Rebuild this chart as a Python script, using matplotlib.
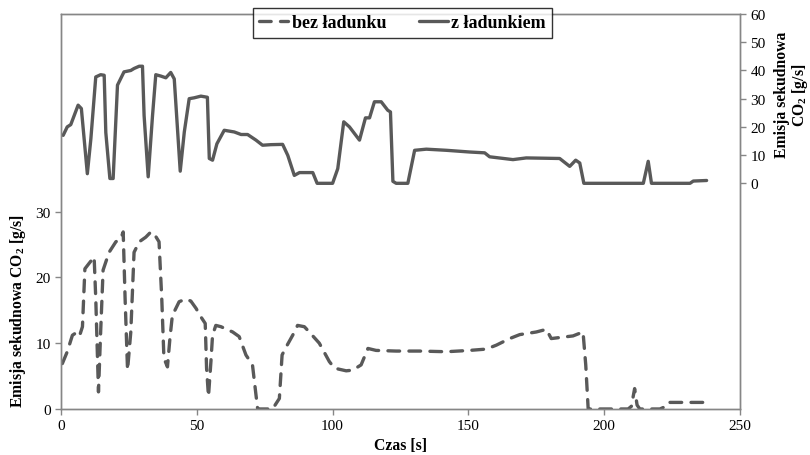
import matplotlib
matplotlib.use("Agg")
import matplotlib.pyplot as plt

plt.rcParams['font.family'] = ['Liberation Serif', 'DejaVu Serif']
plt.rcParams['mathtext.fontset'] = 'custom'
plt.rcParams['mathtext.rm'] = 'Liberation Serif:bold'
plt.rcParams['mathtext.bf'] = 'Liberation Serif:bold'

# z ładunkiem (prawa oś)
t_z = [0.8, 2.3, 3.6, 6.3, 7.5, 9.7, 11.0, 12.8, 14.6, 15.9, 16.5, 18.0, 19.2, 20.8,
       23.2, 25.7, 26.9, 28.8, 30.0, 30.6, 32.1, 33.7, 34.9, 36.8, 38.6, 40.4, 41.7,
       43.9, 45.4, 47.2, 49.0, 51.5, 53.9, 54.6, 55.8, 57.4, 60.1, 63.8, 66.3, 68.7,
       71.8, 74.2, 77.3, 81.6, 83.5, 85.9, 87.8, 92.7, 94.3, 100.0, 101.9, 104.1,
       106.2, 109.9, 112.1, 113.6, 115.4, 117.9, 120.3, 121.3, 122.2, 123.4, 127.7,
       130.2, 134.5, 141.9, 150.4, 156.0, 157.8, 166.4, 171.3, 183.6, 187.3, 189.5,
       191.0, 192.5, 214.4, 216.2, 217.4, 231.6, 232.8, 237.7]
v_z = [17.0, 20.0, 20.8, 27.7, 26.5, 3.4, 15.8, 37.7, 38.5, 38.3, 18.0, 1.7, 1.7, 34.8,
       39.5, 40.0, 40.7, 41.5, 41.5, 24.0, 2.3, 24.0, 38.5, 38.0, 37.4, 39.3, 37.0,
       4.3, 18.2, 30.0, 30.3, 30.9, 30.5, 8.8, 8.2, 14.0, 18.8, 18.2, 17.3, 17.3,
       15.3, 13.5, 13.7, 13.8, 9.9, 2.8, 3.8, 3.8, 0.0, 0.0, 5.2, 21.8,
       20.0, 15.3, 23.2, 23.2, 28.9, 28.9, 25.9, 25.3, 0.7, 0.0, 0.0,
       11.7, 12.1, 11.7, 11.1, 10.8, 9.4, 8.4, 9.0, 8.8, 6.0, 8.2,
       7.2, 0.0, 0.0, 7.8, 0.0, 0.0, 0.8, 1.0]

# bez ładunku (lewa oś)
t_b = [0.5, 2.3, 4.2, 6.0, 6.9, 7.9, 8.8, 10.3, 12.2, 12.8, 13.8, 14.6, 15.5, 17.7,
       20.2, 22.0, 22.9, 23.6, 24.5, 25.7, 26.9, 28.8, 31.2, 33.1, 34.3, 36.1, 37.1,
       37.9, 39.2, 40.1, 41.0, 43.5, 46.0, 47.8, 49.7, 51.5, 53.1, 53.6, 54.3, 55.2,
       55.8, 57.0, 58.9, 63.2, 65.6, 68.1, 70.5, 71.8, 72.4, 77.9, 80.4, 81.4, 82.6,
       85.3, 87.1, 89.6, 91.4, 95.1, 98.8, 100.7, 105.0, 107.4, 110.5, 113.0, 116.0,
       123.4, 132.0, 141.9, 150.4, 156.6, 160.3, 165.2, 168.9, 175.0, 178.7, 180.5,
       188.5, 192.2, 193.2, 194.1, 203.3, 208.8, 210.0, 211.2, 212.1, 213.1, 220.5,
       222.7, 223.6, 237.7]
v_b = [6.9, 8.7, 11.2, 11.7, 11.2, 12.5, 21.3, 22.1, 23.1, 16.8, 2.6, 11.7, 21.1, 23.8,
       25.4, 25.9, 26.9, 16.8, 5.9, 11.7, 23.8, 25.4, 26.1, 26.9, 26.6, 25.4, 16.8,
       7.7, 6.4, 10.7, 14.2, 16.3, 16.7, 16.4, 15.3, 14.0, 13.0, 6.2, 1.9, 7.2,
       11.2, 12.7, 12.5, 11.7, 11.0, 8.2, 6.7, 2.1, 0.0, 0.0, 1.6, 8.2, 9.2,
       11.2, 12.7, 12.5, 11.7, 10.0, 7.2, 6.2, 5.8, 5.9, 6.7, 9.2, 8.9,
       8.8, 8.8, 8.7, 8.9, 9.1, 9.7, 10.7, 11.3, 11.7, 12.1, 10.7,
       11.1, 11.7, 6.7, 0.0, 0.0, 0.0, 0.4, 3.1, 0.6, 0.0, 0.0,
       0.4, 1.0, 1.0]

x_ticks = [0, 50, 100, 150, 200, 250]
left_ticks = [0, 10, 20, 30]
right_ticks = [0, 10, 20, 30, 40, 50, 60]

line_col = '#595959'
spine_col = '#868686'

fig = plt.figure(figsize=(8.1, 4.56), dpi=100)
ax = fig.add_axes([0.0753, 0.1009, 0.9136 - 0.0753, 0.967 - 0.1009])
ax2 = ax.twinx()

l1, = ax.plot(t_b, v_b, color=line_col, lw=2.4, dashes=(3.5, 2.8),
              dash_capstyle='round', dash_joinstyle='round', label='bez ładunku')
l2, = ax2.plot(t_z, v_z, color=line_col, lw=2.4, solid_joinstyle='round',
               solid_capstyle='round', label='z ładunkiem')

ax.set_xlim(0, 250)
ax.set_ylim(0, 60)
ax2.set_ylim(-80, 60)
ax.set_xticks(x_ticks)
ax.set_yticks(left_ticks)
ax2.set_yticks(right_ticks)

for a in (ax, ax2):
    for s in a.spines.values():
        s.set_color(spine_col)
        s.set_linewidth(1.0)
    a.tick_params(colors=spine_col, labelcolor='black', labelsize=11, length=4, width=1)

ax.set_xlabel('Czas [s]', fontsize=11.3, fontweight='bold', labelpad=3)
ax.set_ylabel('Emisja sekudnowa CO$_2$ [g/s]', fontsize=11.3, fontweight='bold')
ax.yaxis.set_label_coords(-0.049, 0.25)
ax2.set_ylabel('Emisja sekudnowa\nCO$_2$ [g/s]', fontsize=11.3, fontweight='bold',
               rotation=90, linespacing=1.0)
ax2.yaxis.set_label_coords(1.05, 0.797)

leg = ax2.legend([l1, l2], ['bez ładunku', 'z ładunkiem'], loc='upper center',
                 bbox_to_anchor=(0.503, 1.015), ncol=2, frameon=True, fancybox=False,
                 prop={'weight': 'bold', 'size': 13}, handlelength=1.6,
                 handletextpad=0.2, columnspacing=1.8, borderpad=0.35,
                 borderaxespad=0)
leg.get_frame().set_edgecolor('black')
leg.get_frame().set_linewidth(1.0)

fig.savefig('out.png', dpi=100)
